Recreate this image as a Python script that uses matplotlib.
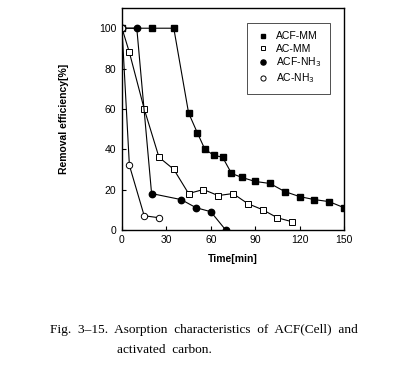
import matplotlib
matplotlib.use("Agg")
import matplotlib.pyplot as plt

plt.rcParams['font.family'] = ['Liberation Sans', 'DejaVu Sans']

# ACF-MM (filled squares)
t_acf_mm = [0, 20, 35, 45, 51, 56, 62, 68, 74, 81, 90, 100, 110, 120, 130, 140, 150]
y_acf_mm = [100, 100, 100, 58, 48, 40, 37, 36, 28, 26, 24, 23, 19, 16.5, 15, 14, 11]

# AC-MM (open squares)
t_ac_mm = [0, 5, 15, 25, 35, 45, 55, 65, 75, 85, 95, 105, 115]
y_ac_mm = [100, 88, 60, 36, 30, 18, 20, 17, 18, 13, 10, 6, 4]

# ACF-NH3 (filled circles)
t_acf_nh3 = [0, 10, 20, 40, 50, 60, 70]
y_acf_nh3 = [100, 100, 18, 15, 11, 9, 0]

# AC-NH3 (open circles)
t_ac_nh3 = [0, 5, 15, 25]
y_ac_nh3 = [100, 32, 7, 6]

xticks = [0, 30, 60, 90, 120, 150]
yticks = [0, 20, 40, 60, 80, 100]

fig = plt.figure(figsize=(4.08, 3.66), dpi=100)
ax = fig.add_axes([0.299, 0.372, 0.544, 0.606])

lw = 0.8
ms = 4.0
ax.plot(t_acf_mm, y_acf_mm, color='black', lw=lw, marker='s', ms=ms,
        mfc='black', mec='black', label='ACF-MM')
ax.plot(t_ac_mm, y_ac_mm, color='black', lw=lw, marker='s', ms=ms,
        mfc='white', mec='black', mew=0.7, label='AC-MM')
ax.plot(t_acf_nh3, y_acf_nh3, color='black', lw=lw, marker='o', ms=ms + 0.6,
        mfc='black', mec='black', label='ACF-NH$_3$')
ax.plot(t_ac_nh3, y_ac_nh3, color='black', lw=lw, marker='o', ms=ms + 0.6,
        mfc='white', mec='black', mew=0.7, label='AC-NH$_3$')

ax.set_xlim(0, 150)
ax.set_ylim(0, 110)
ax.set_xticks(xticks)
ax.set_yticks(yticks)
ax.tick_params(direction='in', length=3, width=0.8, labelsize=7.5, pad=4)
for s in ax.spines.values():
    s.set_linewidth(1.0)

ax.set_xlabel('Time[min]', fontsize=7.5, fontweight='bold', labelpad=6)
ax.set_ylabel('Removal efficiency[%]', fontsize=7.5, fontweight='bold', labelpad=22)

leg = ax.legend(loc='upper right', bbox_to_anchor=(0.937, 0.932), borderaxespad=0,
                fontsize=7.5, frameon=True, fancybox=False, edgecolor='black',
                handlelength=1.4, handletextpad=0.6, borderpad=0.8,
                labelspacing=0.2, markerscale=0.8)
leg.get_frame().set_linewidth(0.6)
for h in leg.get_lines():
    h.set_linestyle('none')

serif = ['Liberation Serif', 'DejaVu Serif']
fig.text(0.123, 0.090, 'Fig.  3\u201215.  Asorption  characteristics  of  ACF(Cell)  and',
         family=serif, fontsize=9.6, ha='left', va='baseline')
fig.text(0.287, 0.036, 'activated  carbon.',
         family=serif, fontsize=9.6, ha='left', va='baseline')

fig.savefig('out.png', dpi=100)
